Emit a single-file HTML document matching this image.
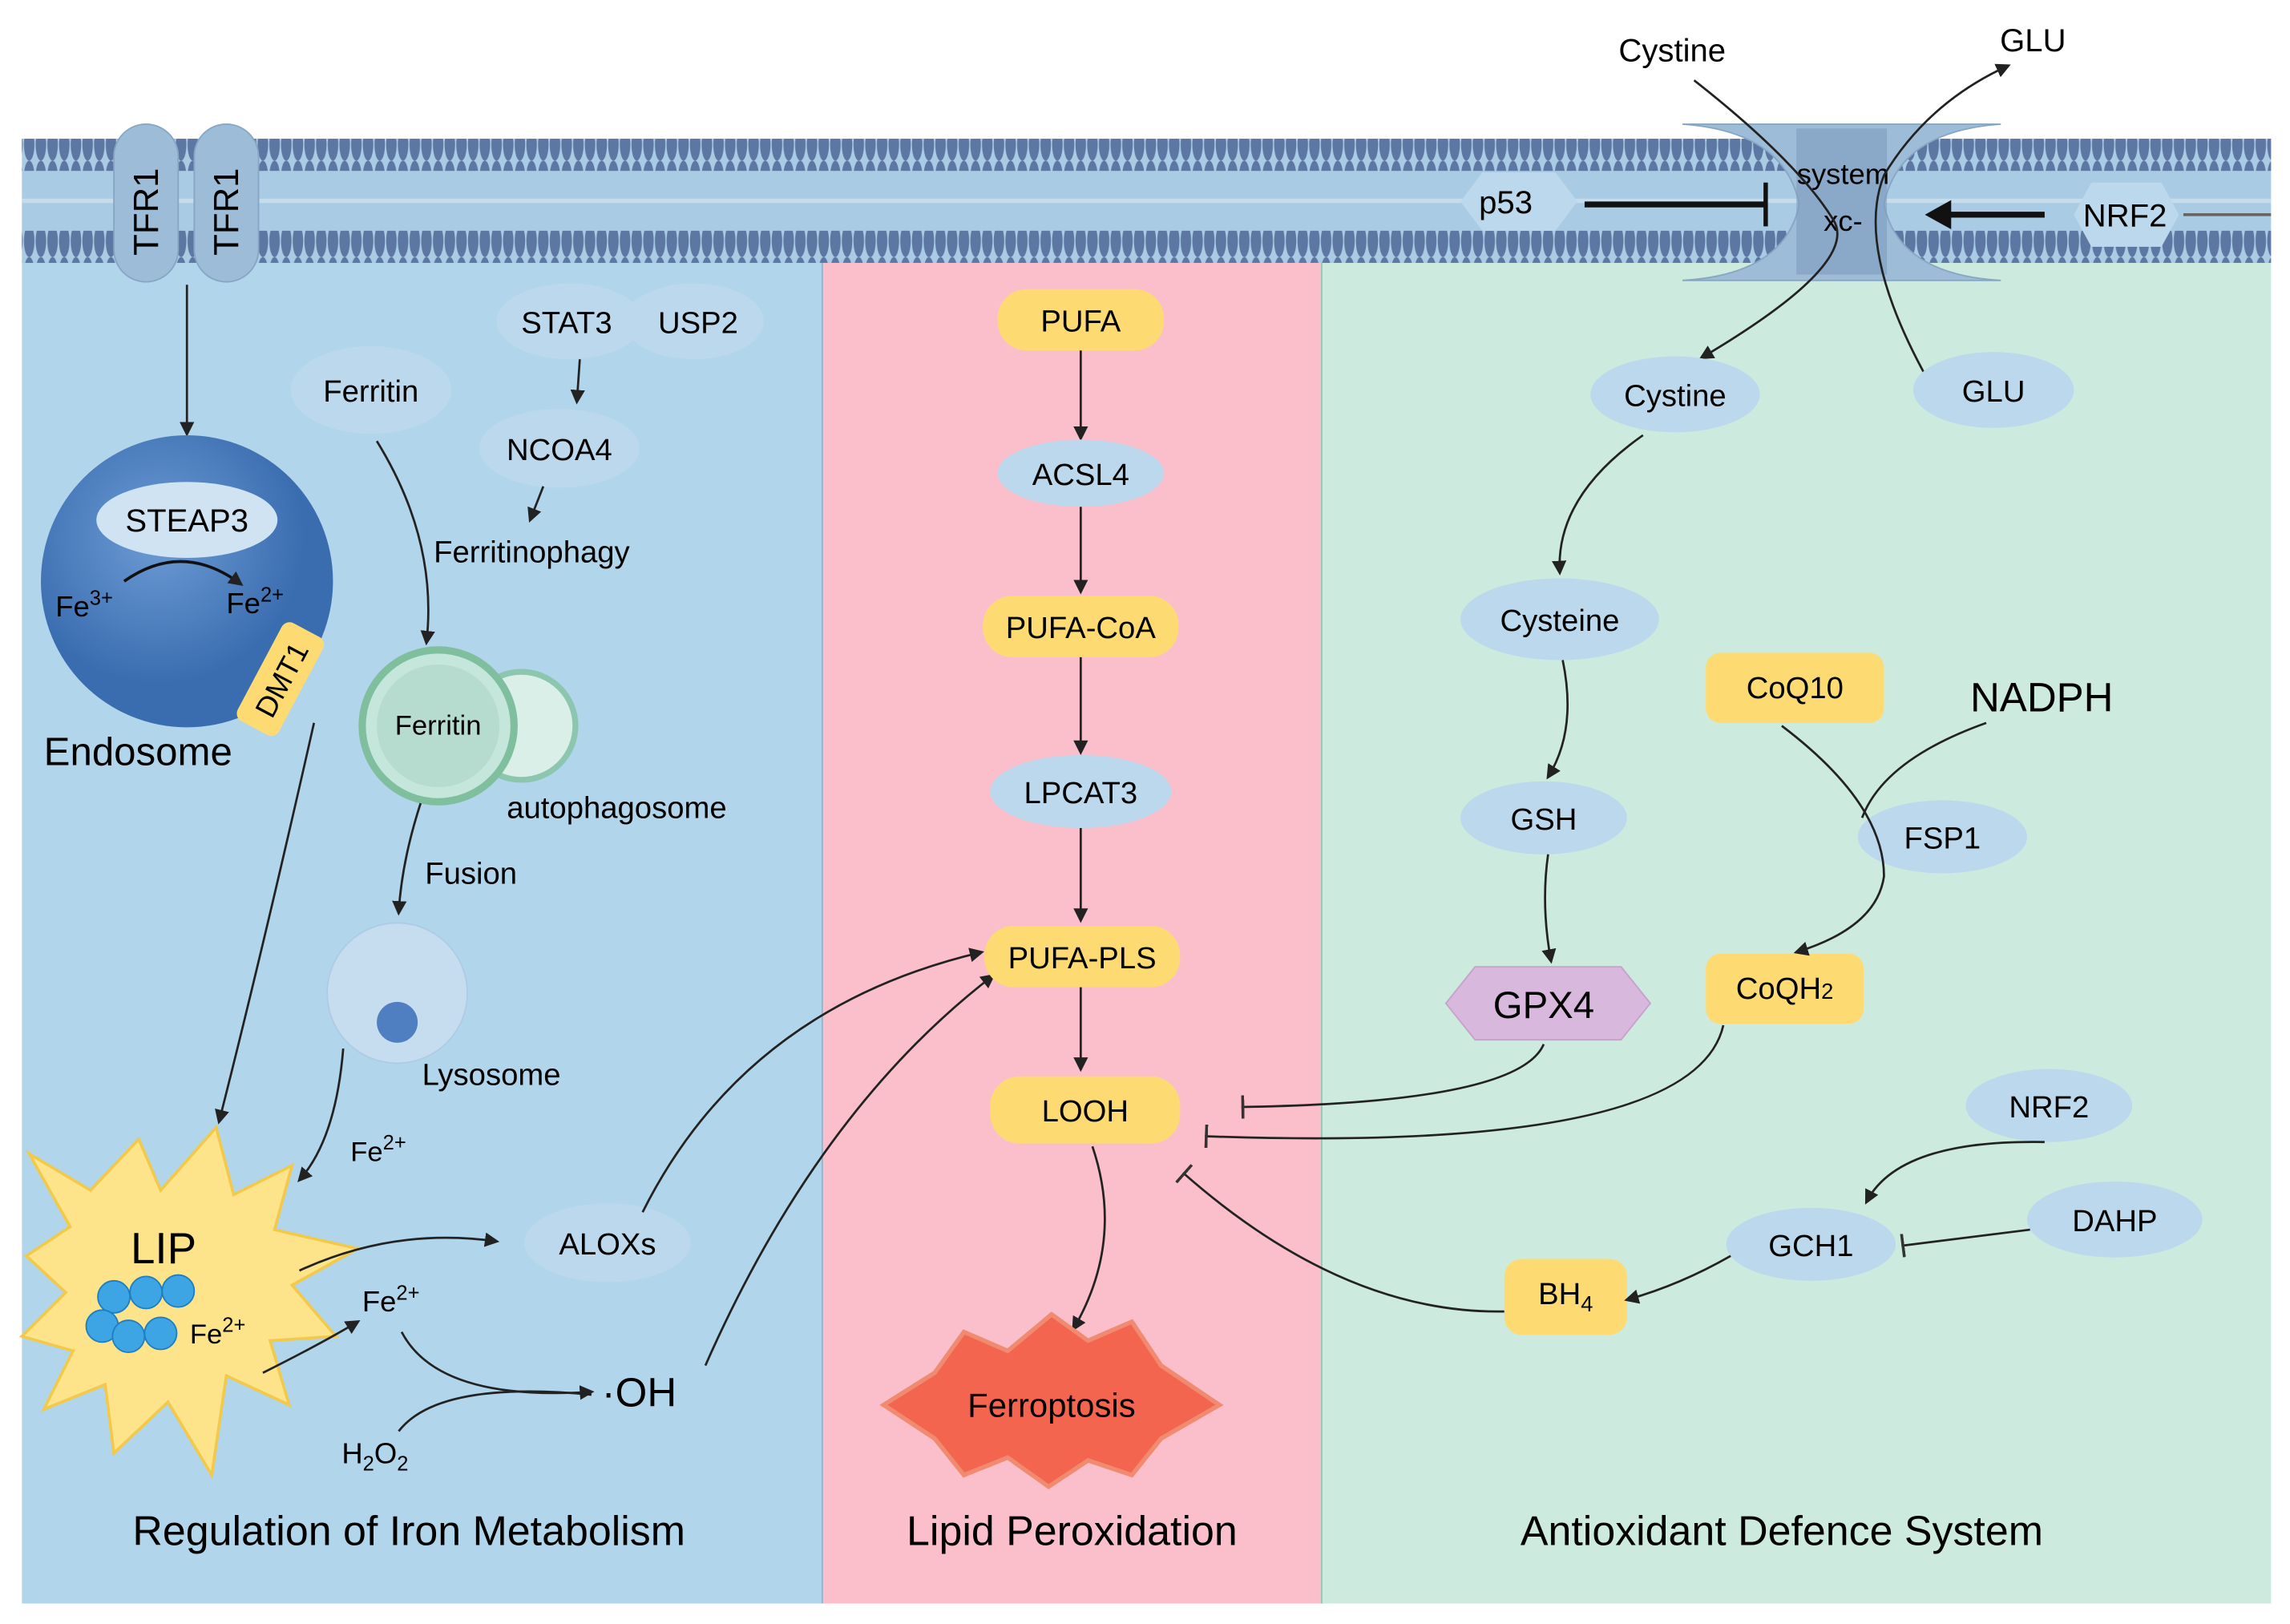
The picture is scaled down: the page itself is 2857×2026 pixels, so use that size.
<!DOCTYPE html>
<html><head><meta charset="utf-8"><style>
html,body{margin:0;padding:0;background:#fff;}
svg{display:block;font-family:"Liberation Sans",sans-serif;}
</style></head><body>
<svg width="2857" height="2026" viewBox="0 0 1568 1112" preserveAspectRatio="none" xmlns="http://www.w3.org/2000/svg">
<defs>
<marker id="a" markerWidth="10" markerHeight="10" refX="8" refY="5" orient="auto" markerUnits="userSpaceOnUse"><path d="M0,0 L10,5 L0,10 z" fill="#222"/></marker>
<marker id="t" markerWidth="4" markerHeight="16" refX="2" refY="8" orient="auto" markerUnits="userSpaceOnUse"><rect x="0" y="0" width="2" height="16" fill="#333"/></marker>
<pattern id="heads" width="8" height="22" patternUnits="userSpaceOnUse"><ellipse cx="4" cy="11" rx="3.6" ry="11" fill="#5d77a3"/></pattern>
<radialGradient id="endo" cx="0.4" cy="0.35"><stop offset="0" stop-color="#6d9bd4"/><stop offset="1" stop-color="#3a6db0"/></radialGradient>
</defs>
<rect width="1568" height="1112" fill="#fff"/>
<rect x="15" y="178" width="548" height="920" fill="#b1d5ea"/>
<rect x="563" y="178" width="342" height="920" fill="#fbbfcb"/>
<rect x="905" y="178" width="650" height="920" fill="#cdeadf"/>
<line x1="563" y1="178" x2="563" y2="1098" stroke="#8fb4cc" stroke-width="1"/>
<line x1="905" y1="178" x2="905" y2="1098" stroke="#8fc9b5" stroke-width="1"/>
<rect x="15" y="95" width="1540" height="85" fill="#a9cbe3"/>
<rect x="15" y="95" width="1540" height="22" fill="url(#heads)"/>
<rect x="15" y="158" width="1540" height="22" fill="url(#heads)"/>
<rect x="15" y="136" width="1540" height="3" fill="#c4dcec"/>
<rect x="78" y="85" width="44" height="108" rx="22" fill="#9cbcd8" stroke="#86a6c4"/>
<rect x="133" y="85" width="44" height="108" rx="22" fill="#9cbcd8" stroke="#86a6c4"/>
<text transform="translate(108,175) rotate(-90)" font-size="24">TFR1</text>
<text transform="translate(163,175) rotate(-90)" font-size="24">TFR1</text>
<path d="M1152,85 L1370,85 Q1300,90 1290,140 Q1300,188 1370,192 L1152,192 Q1222,188 1232,140 Q1222,90 1152,85 z" fill="#9cbcd8" stroke="#86a6c4"/>
<rect x="1230" y="88" width="62" height="100" fill="#7f9dc0" opacity="0.6"/>
<text x="1262" y="126" font-size="20" text-anchor="middle">system</text>
<text x="1262" y="158" font-size="20" text-anchor="middle">xc-</text>
<path d="M1160,55 Q1230,110 1255,150 Q1275,180 1165,245" fill="none" stroke="#222" stroke-width="1.5" marker-end="url(#a)"/>
<path d="M1320,260 Q1270,170 1290,120 Q1320,70 1375,45" fill="none" stroke="#222" stroke-width="1.5" marker-end="url(#a)"/>
<text x="1145" y="42" font-size="22" text-anchor="middle">Cystine</text>
<text x="1392" y="35" font-size="22" text-anchor="middle">GLU</text>
<path d="M1000,138 L1015,118 L1065,118 L1080,138 L1065,158 L1015,158 z" fill="#bcd8ec"/>
<text x="1031" y="146" font-size="22" text-anchor="middle">p53</text>
<line x1="1085" y1="140" x2="1208" y2="140" stroke="#111" stroke-width="4"/>
<line x1="1209" y1="125" x2="1209" y2="155" stroke="#111" stroke-width="3"/>
<path d="M1420,147 L1432,125 L1480,125 L1492,147 L1480,169 L1432,169 z" fill="#bcd8ec"/>
<text x="1455" y="155" font-size="22" text-anchor="middle">NRF2</text>
<line x1="1495" y1="147" x2="1555" y2="147" stroke="#666" stroke-width="2"/>
<line x1="1400" y1="147" x2="1330" y2="147" stroke="#111" stroke-width="4"/>
<path d="M1318,147 L1336,137 L1336,157 z" fill="#111"/>
<line x1="128" y1="195" x2="128" y2="297" stroke="#222" stroke-width="1.5" marker-end="url(#a)"/>
<circle cx="128" cy="398" r="100" fill="url(#endo)"/>
<ellipse cx="128" cy="356" rx="62" ry="26" fill="#cfe3f3"/>
<text x="128" y="364" font-size="22" text-anchor="middle">STEAP3</text>
<text x="38" y="422" font-size="20">Fe<tspan font-size="14" dy="-8">3+</tspan></text>
<text x="155" y="420" font-size="20">Fe<tspan font-size="14" dy="-8">2+</tspan></text>
<path d="M85,398 Q125,370 165,400" fill="none" stroke="#111" stroke-width="2" marker-end="url(#a)"/>
<g transform="translate(192,465) rotate(-62)"><rect x="-38" y="-16" width="76" height="32" rx="6" fill="#fddb72"/><text x="0" y="8" font-size="20" text-anchor="middle">DMT1</text></g>
<text x="30" y="524" font-size="27">Endosome</text>
<path d="M215,495 Q180,650 150,768" fill="none" stroke="#222" stroke-width="1.5" marker-end="url(#a)"/>
<ellipse cx="254" cy="267" rx="55" ry="30" fill="#bcd8ec"/>
<text x="254" y="275" font-size="21" text-anchor="middle">Ferritin</text>
<ellipse cx="390" cy="220" rx="50" ry="26" fill="#bcd8ec"/>
<ellipse cx="475" cy="220" rx="48" ry="26" fill="#bcd8ec"/>
<text x="388" y="228" font-size="21" text-anchor="middle">STAT3</text>
<text x="478" y="228" font-size="21" text-anchor="middle">USP2</text>
<line x1="397" y1="246" x2="395" y2="275" stroke="#222" stroke-width="1.5" marker-end="url(#a)"/>
<ellipse cx="383" cy="307" rx="55" ry="27" fill="#bcd8ec"/>
<text x="383" y="315" font-size="21" text-anchor="middle">NCOA4</text>
<line x1="372" y1="333" x2="363" y2="356" stroke="#222" stroke-width="1.5" marker-end="url(#a)"/>
<text x="297" y="385" font-size="21">Ferritinophagy</text>
<path d="M258,302 Q300,370 292,440" fill="none" stroke="#222" stroke-width="1.5" marker-end="url(#a)"/>
<circle cx="357" cy="497" r="37" fill="#d9efe8" stroke="#8cc6ae" stroke-width="4"/>
<circle cx="300" cy="497" r="52" fill="#c5e6db" stroke="#7fbf9e" stroke-width="5"/>
<circle cx="300" cy="497" r="42" fill="#b6dccf"/>
<text x="300" y="503" font-size="19" text-anchor="middle">Ferritin</text>
<text x="347" y="560" font-size="21">autophagosome</text>
<path d="M288,550 Q275,590 273,625" fill="none" stroke="#222" stroke-width="1.5" marker-end="url(#a)"/>
<text x="291" y="605" font-size="21">Fusion</text>
<circle cx="272" cy="680" r="48" fill="#c6ddf0" stroke="#aecbe6"/>
<circle cx="272" cy="700" r="14" fill="#4f7fc0"/>
<text x="289" y="743" font-size="21">Lysosome</text>
<path d="M235,718 Q230,780 205,808" fill="none" stroke="#222" stroke-width="1.5" marker-end="url(#a)"/>
<text x="240" y="795" font-size="19">Fe<tspan font-size="14" dy="-8">2+</tspan></text>
<path d="M20,790 L62,815 L95,780 L110,815 L148,772 L160,818 L200,798 L188,842 L245,855 L200,880 L230,915 L185,918 L198,962 L155,942 L145,1010 L115,960 L78,995 L72,948 L30,965 L50,925 L15,915 L45,885 L18,860 L48,840 z" fill="#fde48a" stroke="#f3c94a" stroke-width="2"/>
<text x="112" y="865" font-size="30" text-anchor="middle">LIP</text>
<g fill="#3da5e3" stroke="#1d7ec1"><circle cx="78" cy="888" r="11"/><circle cx="100" cy="885" r="11"/><circle cx="122" cy="884" r="11"/><circle cx="70" cy="908" r="11"/><circle cx="88" cy="915" r="11"/><circle cx="110" cy="913" r="11"/></g>
<text x="130" y="920" font-size="19">Fe<tspan font-size="14" dy="-8">2+</tspan></text>
<path d="M205,870 Q270,840 340,850" fill="none" stroke="#222" stroke-width="1.5" marker-end="url(#a)"/>
<path d="M180,940 Q220,920 245,905" fill="none" stroke="#222" stroke-width="1.5" marker-end="url(#a)"/>
<text x="248" y="898" font-size="20">Fe<tspan font-size="14" dy="-8">2+</tspan></text>
<ellipse cx="416" cy="851" rx="57" ry="27" fill="#bcd8ec"/>
<text x="416" y="859" font-size="21" text-anchor="middle">ALOXs</text>
<path d="M275,912 Q300,960 405,953" fill="none" stroke="#222" stroke-width="1.5" marker-end="url(#a)"/>
<path d="M273,980 Q300,945 405,955" fill="none" stroke="#222" stroke-width="1.5"/>
<text x="234" y="1002" font-size="20">H<tspan font-size="14" dy="5">2</tspan><tspan dy="-5">O</tspan><tspan font-size="14" dy="5">2</tspan></text>
<text x="412" y="963" font-size="28">·OH</text>
<path d="M440,830 Q510,690 672,652" fill="none" stroke="#222" stroke-width="1.5" marker-end="url(#a)"/>
<path d="M483,935 Q560,760 680,668" fill="none" stroke="#222" stroke-width="1.5" marker-end="url(#a)"/>
<text x="280" y="1058" font-size="28.5" text-anchor="middle">Regulation of Iron Metabolism</text>
<g font-size="21" text-anchor="middle">
<rect x="683" y="198" width="114" height="42" rx="20" fill="#fddb72"/><text x="740" y="227">PUFA</text>
<line x1="740" y1="240" x2="740" y2="300" stroke="#222" stroke-width="1.5" marker-end="url(#a)"/>
<ellipse cx="740" cy="324" rx="57" ry="23" fill="#bcd8ec"/><text x="740" y="332">ACSL4</text>
<line x1="740" y1="347" x2="740" y2="405" stroke="#222" stroke-width="1.5" marker-end="url(#a)"/>
<rect x="673" y="408" width="134" height="42" rx="20" fill="#fddb72"/><text x="740" y="437">PUFA-CoA</text>
<line x1="740" y1="450" x2="740" y2="515" stroke="#222" stroke-width="1.5" marker-end="url(#a)"/>
<ellipse cx="740" cy="542" rx="62" ry="25" fill="#bcd8ec"/><text x="740" y="550">LPCAT3</text>
<line x1="740" y1="567" x2="740" y2="630" stroke="#222" stroke-width="1.5" marker-end="url(#a)"/>
<rect x="674" y="634" width="134" height="42" rx="20" fill="#fddb72"/><text x="741" y="663">PUFA-PLS</text>
<line x1="740" y1="676" x2="740" y2="732" stroke="#222" stroke-width="1.5" marker-end="url(#a)"/>
<rect x="678" y="737" width="130" height="46" rx="20" fill="#fddb72"/><text x="743" y="768">LOOH</text>
</g>
<path d="M748,785 Q770,850 735,910" fill="none" stroke="#222" stroke-width="1.5" marker-end="url(#a)"/>
<path d="M605,962 L640,940 L660,912 L690,925 L720,900 L745,918 L775,905 L795,935 L835,962 L795,985 L775,1010 L745,1000 L718,1018 L690,998 L660,1010 L640,985 z" fill="#f3654f" stroke="#f08a70" stroke-width="3"/>
<text x="720" y="970" font-size="23" text-anchor="middle">Ferroptosis</text>
<text x="734" y="1058" font-size="28.5" text-anchor="middle">Lipid Peroxidation</text>
<g font-size="21" text-anchor="middle">
<ellipse cx="1147" cy="270" rx="58" ry="26" fill="#bcd8ec"/><text x="1147" y="278">Cystine</text>
<ellipse cx="1365" cy="267" rx="55" ry="26" fill="#bcd8ec"/><text x="1365" y="275">GLU</text>
<ellipse cx="1068" cy="424" rx="68" ry="28" fill="#bcd8ec"/><text x="1068" y="432">Cysteine</text>
<ellipse cx="1057" cy="560" rx="57" ry="25" fill="#bcd8ec"/><text x="1057" y="568">GSH</text>
<rect x="1168" y="447" width="122" height="48" rx="10" fill="#fddb72"/><text x="1229" y="478">CoQ10</text>
<ellipse cx="1330" cy="573" rx="58" ry="25" fill="#bcd8ec"/><text x="1330" y="581">FSP1</text>
<rect x="1168" y="653" width="108" height="48" rx="10" fill="#fddb72"/><text x="1222" y="684">CoQH<tspan font-size="15">2</tspan></text>
<ellipse cx="1403" cy="757" rx="57" ry="25" fill="#bcd8ec"/><text x="1403" y="765">NRF2</text>
<ellipse cx="1240" cy="852" rx="58" ry="25" fill="#bcd8ec"/><text x="1240" y="860">GCH1</text>
<ellipse cx="1448" cy="835" rx="60" ry="26" fill="#bcd8ec"/><text x="1448" y="843">DAHP</text>
<rect x="1030" y="862" width="84" height="52" rx="12" fill="#fddb72"/><text x="1072" y="893">BH<tspan font-size="15" dy="5">4</tspan></text>
</g>
<path d="M990,687 L1010,662 L1110,662 L1130,687 L1110,712 L1010,712 z" fill="#d8b8dc" stroke="#c8a0cc"/>
<text x="1057" y="697" font-size="26" text-anchor="middle">GPX4</text>
<text x="1398" y="487" font-size="28" text-anchor="middle">NADPH</text>
<g fill="none" stroke="#222" stroke-width="1.5">
<path d="M1125,298 Q1065,340 1068,392" marker-end="url(#a)"/>
<path d="M1070,452 Q1080,500 1060,532" marker-end="url(#a)"/>
<path d="M1060,585 Q1055,620 1062,658" marker-end="url(#a)"/>
<path d="M1220,497 Q1290,550 1290,600 Q1285,635 1230,652" marker-end="url(#a)"/>
<path d="M1360,495 Q1290,520 1275,560"/>
<path d="M1400,782 Q1300,780 1278,823" marker-end="url(#a)"/>
<path d="M1390,842 L1302,853" marker-end="url(#t)"/>
<path d="M1185,860 Q1150,880 1114,890" marker-end="url(#a)"/>
<path d="M1057,715 Q1040,755 850,758" marker-end="url(#t)"/>
<path d="M1180,702 Q1160,790 825,778" marker-end="url(#t)"/>
<path d="M1030,898 Q920,900 810,803" marker-end="url(#t)"/>
</g>
<text x="1220" y="1058" font-size="28.5" text-anchor="middle">Antioxidant Defence System</text>
</svg>
</body></html>
